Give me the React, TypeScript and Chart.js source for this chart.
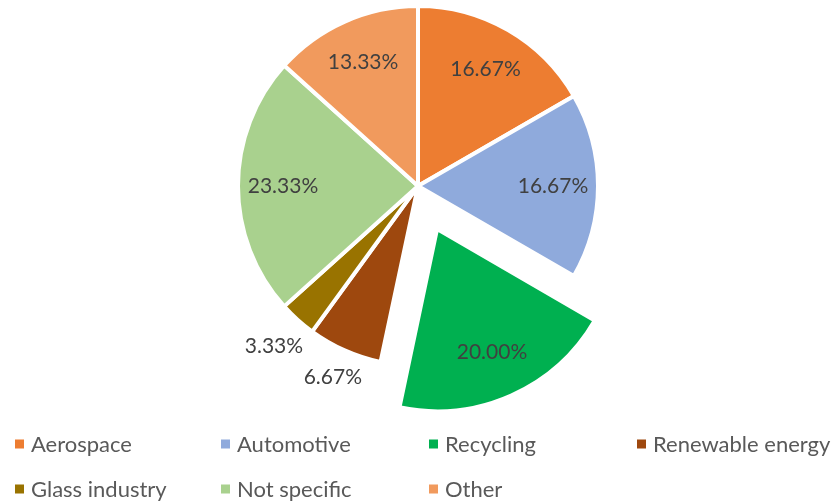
import React, { useEffect, useRef } from "react";
import { Chart, registerables } from "chart.js";

Chart.register(...registerables);

const categories = ["Aerospace", "Automotive", "Recycling", "Renewable energy", "Glass industry", "Not specific", "Other"];
const shares = [16.67, 16.67, 20.0, 6.67, 3.33, 23.33, 13.33];
const sliceColors = ["#ED7D31", "#8FAADC", "#00B050", "#9E480E", "#997300", "#A9D18E", "#F19A5D"];
const explode = [0, 0, 188, 0, 0, 0, 0];
const outsideLabel = [false, false, false, true, true, false, false];

const FONT = "Lato, 'Open Sans', sans-serif";

const labelPlugin = {
  id: "sliceLabels",
  afterDatasetsDraw(chart: any) {
    const ctx = chart.ctx;
    const meta = chart.getDatasetMeta(0);
    ctx.save();
    ctx.font = `21px ${FONT}`;
    ctx.fillStyle = "#404040";
    ctx.textAlign = "center";
    ctx.textBaseline = "middle";
    meta.data.forEach((arc: any, i: number) => {
      const p = arc.getProps(["x", "y", "startAngle", "endAngle", "outerRadius"], true);
      const mid = (p.startAngle + p.endAngle) / 2;
      const ux = Math.cos(mid);
      const uy = Math.sin(mid);
      const shift = (explode[i] || 0) / 4;
      const cx = p.x + ux * shift;
      const cy = p.y + uy * shift;
      const text = shares[i].toFixed(2) + "%";
      let r: number;
      if (outsideLabel[i]) {
        const w = ctx.measureText(text).width;
        const h = 18;
        r = p.outerRadius + Math.abs(ux) * w / 2 + Math.abs(uy) * h / 2 + 9;
      } else {
        r = p.outerRadius * 0.75;
      }
      ctx.fillText(text, cx + ux * r, cy + uy * r);
    });
    ctx.restore();
  },
};

const legendPlugin = {
  id: "gridLegend",
  afterDraw(chart: any) {
    const ctx = chart.ctx;
    const cols = [15, 221, 429, 637];
    const rows = [444, 489];
    ctx.save();
    ctx.font = `22px ${FONT}`;
    ctx.textAlign = "left";
    ctx.textBaseline = "middle";
    categories.forEach((name, i) => {
      const x = cols[i % 4];
      const y = rows[Math.floor(i / 4)];
      ctx.fillStyle = sliceColors[i];
      ctx.fillRect(x, y - 4.5, 9, 9);
      ctx.fillStyle = "#595959";
      ctx.fillText(name, x + 16, y + 1);
    });
    ctx.restore();
  },
};

export default function App() {
  const ref = useRef<HTMLCanvasElement | null>(null);
  useEffect(() => {
    if (!ref.current) return;
    const chart = new Chart(ref.current, {
      type: "pie",
      data: {
        labels: categories,
        datasets: [
          {
            data: shares,
            backgroundColor: sliceColors,
            borderColor: "#FFFFFF",
            borderWidth: 4,
            offset: explode,
            radius: 180,
            hoverOffset: 0,
          } as any,
        ],
      },
      options: {
        animation: false,
        responsive: false,
        devicePixelRatio: 1,
        layout: { padding: { top: 0, bottom: 132, left: 0, right: 0 } },
        plugins: {
          legend: { display: false },
          tooltip: { enabled: false },
        },
      } as any,
      plugins: [labelPlugin, legendPlugin],
    });
    return () => chart.destroy();
  }, []);
  return (
    <div style={{ position: "absolute", left: 0, top: 0, width: 836, height: 504, background: "#FFFFFF" }}>
      <canvas ref={ref} width={836} height={504} />
    </div>
  );
}
